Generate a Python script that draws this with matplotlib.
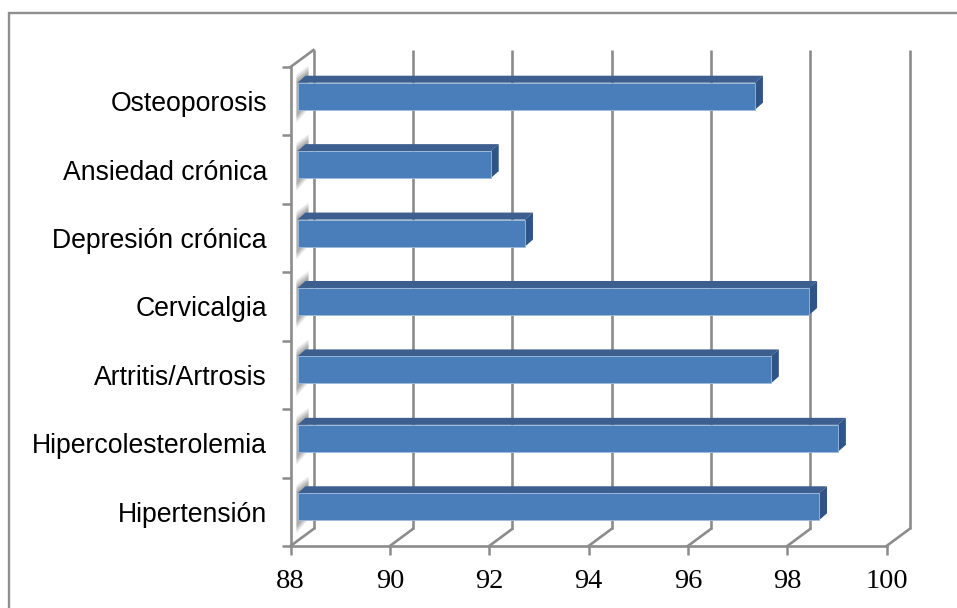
import matplotlib
matplotlib.use("Agg")
import matplotlib.pyplot as plt
from matplotlib.patches import Polygon, Rectangle
from matplotlib.transforms import ScaledTranslation

categories = ["Hipertensión", "Hipercolesterolemia", "Artritis/Artrosis", "Cervicalgia",
              "Depresión crónica", "Ansiedad crónica", "Osteoporosis"]
values = [98.5, 98.88, 97.53, 98.3, 92.58, 91.89, 97.21]
x_ticks = [88, 90, 92, 94, 96, 98, 100]

W, H, DPI = 957, 608, 100
GRID = "#8c8c8c"
FACE = "#4a7ebb"
TOP = "#3d5f8f"
SIDE = "#2f5487"

fig = plt.figure(figsize=(W / DPI, H / DPI), dpi=DPI, facecolor="white")

# Outer chart frame, in pixel coordinates
frame = fig.add_axes([0, 0, 1, 1], zorder=0)
frame.set_xlim(0, W)
frame.set_ylim(H, 0)
frame.axis("off")
frame.plot([9, 9, W], [H, 13, 13], color="#8f8f8f", lw=1.7, solid_joinstyle="miter")

# Front plane of the pseudo-3D plot
x0, x1, y_top, y_bot = 290.5, 886.5, 67.0, 546.0
ax = fig.add_axes([x0 / W, 1 - y_bot / H, (x1 - x0) / W, (y_bot - y_top) / H], zorder=1)
ax.set_xlim(88, 100)
ax.set_ylim(-0.5, len(categories) - 0.5)
ax.patch.set_alpha(0)
for s in ax.spines.values():
    s.set_visible(False)


def shifted(dx, dy):
    """Data transform moved by a pixel offset (dy measured upward)."""
    return ax.transData + ScaledTranslation(dx / DPI, dy / DPI, fig.dpi_scale_trans)


DEPTH_X, DEPTH_Y = 23, 17
back = shifted(DEPTH_X, DEPTH_Y)
ylo, yhi = ax.get_ylim()
LW = 1.9

# Vertical gridlines on the back wall and their diagonals along the floor
for t in x_ticks:
    ax.plot([t, t], [ylo, yhi], color=GRID, lw=LW, transform=back, clip_on=False, zorder=1,
            solid_capstyle="butt")
for t in x_ticks:
    p0 = ax.transData.transform((t, ylo))
    p1 = back.transform((t, ylo))
    ax.plot([p0[0], p1[0]], [p0[1], p1[1]], color=GRID, lw=LW, transform=None,
            clip_on=False, zorder=1)

# Front axis lines, side wall top edge, and tick stubs
ax.plot([88, 100], [ylo, ylo], color=GRID, lw=LW, clip_on=False, zorder=2)
ax.plot([88, 88], [ylo, yhi], color=GRID, lw=LW, clip_on=False, zorder=2)
p0 = ax.transData.transform((88, yhi))
p1 = back.transform((88, yhi))
ax.plot([p0[0], p1[0]], [p0[1], p1[1]], color=GRID, lw=LW, transform=None, clip_on=False, zorder=2)

ax.set_xticks(x_ticks)
ax.set_xticklabels([str(t) for t in x_ticks], family="Liberation Serif", fontsize=20.5, color="black")
ax.tick_params(axis="x", length=6.5, width=1.8, color=GRID, pad=10, direction="out")
ax.set_yticks([i - 0.5 for i in range(len(categories) + 1)])
ax.set_yticklabels([])
ax.tick_params(axis="y", length=6.5, width=1.8, color=GRID)

# Category labels
for i, name in enumerate(categories):
    ax.annotate(name, xy=(88, i), xycoords="data", xytext=(-23.5, -3),
                textcoords="offset pixels", ha="right", va="center",
                family="Liberation Sans", fontsize=19.2, color="black")

# Bars: soft shadow on the side wall, then top, side and front faces
BAR_H = 0.395
BAR_DX, BAR_DY = 7, 5
TOP_DX, TOP_DY = 8, 7
for i, v in enumerate(values):
    lo, hi = i - BAR_H / 2, i + BAR_H / 2
    front = shifted(BAR_DX, BAR_DY)
    rear = shifted(BAR_DX + TOP_DX, BAR_DY + TOP_DY)
    a = front.transform([(88, lo), (88, hi), (v, hi), (v, lo)])
    b = rear.transform([(88, lo), (88, hi), (v, hi), (v, lo)])

    # Layered translucent strips give the blurred shadow
    for grow, alpha in [(8, 0.14), (6, 0.16), (4, 0.2), (2, 0.24)]:
        shadow = [(a[0][0] - 1, a[0][1] - grow - 5), (a[0][0] - 1, a[1][1] + grow),
                  (a[0][0] + 11, a[1][1] + 9 + grow), (a[0][0] + 11, a[0][1] + 9 - grow)]
        ax.add_patch(Polygon(shadow, closed=True, transform=None, facecolor="#6e6e6e",
                             edgecolor="none", alpha=alpha, zorder=2.5, clip_on=False))

    ax.add_patch(Polygon([a[1], b[1], b[2], a[2]], closed=True, transform=None,
                         facecolor=TOP, edgecolor="none", zorder=3, clip_on=False))
    ax.add_patch(Polygon([a[3], a[2], b[2], b[3]], closed=True, transform=None,
                         facecolor=SIDE, edgecolor="none", zorder=3, clip_on=False))
    ax.add_patch(Rectangle((88, lo), v - 88, hi - lo, transform=front, facecolor=FACE,
                           edgecolor="#9dbbdd", lw=0.6, zorder=4, clip_on=False))

fig.savefig("out.png", dpi=DPI, facecolor="white")
